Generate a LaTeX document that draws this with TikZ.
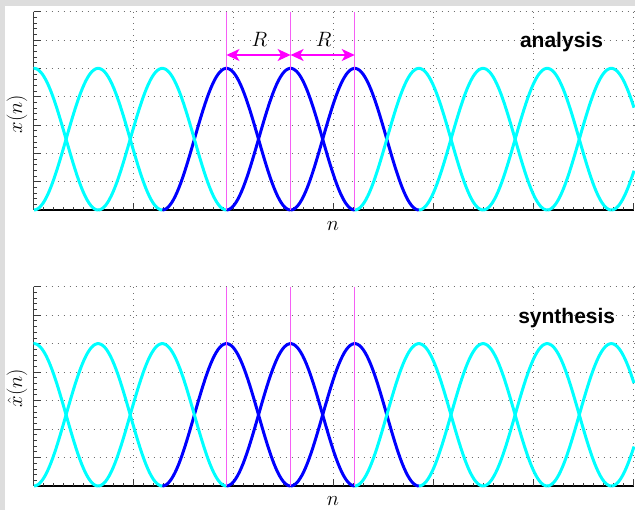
\documentclass[tikz,border=0pt]{standalone}
\usepackage{fontspec}
\newfontfamily\titlefont{Liberation Sans}
\usetikzlibrary{arrows.meta}
\definecolor{bgray}{RGB}{221,221,221}
\definecolor{gridgray}{RGB}{110,110,110}
\definecolor{axgray}{RGB}{60,60,60}
\definecolor{winblue}{RGB}{0,0,255}
\definecolor{wincyan}{RGB}{0,255,255}
\definecolor{markmag}{RGB}{255,0,255}
\definecolor{linemag}{RGB}{245,95,245}
\tikzset{
 gridline/.style={draw=gridgray, line width=0.9pt, dash pattern=on 0.9pt off 5.1pt},
 winline/.style={line width=3pt},
 yaxis/.style={draw=axgray, line width=1.6pt},
 xaxis/.style={draw=black, line width=1.4pt},
 tickline/.style={draw=axgray, line width=1pt},
 minortick/.style={draw=axgray, line width=0.8pt},
 markline/.style={draw=linemag, line width=1.4pt},
 spanarrow/.style={draw=markmag, line width=1.5pt,
   {Stealth[length=13pt,width=12pt,inset=3.5pt]}-{Stealth[length=13pt,width=12pt,inset=3.5pt]}},
 mathlabel/.style={inner sep=0pt, font=\fontsize{20}{24}\selectfont},
 titlelabel/.style={inner sep=0pt, font=\titlefont\bfseries\fontsize{21}{25}\selectfont},
}
% #1 = row of zero, #2 = row of top (1.4), #3 = name prefix
\newcommand\winpanel[3]{%
  \pgfmathsetmacro\unitA{(#1-#2)/1.4}%
  % grid
  \foreach \gi in {1,...,7}
    \draw[gridline] (33.5,{#1-\gi*(#1-#2)/7}) -- (634,{#1-\gi*(#1-#2)/7});
  \foreach \gx in {133.5,233.5,...,633.5}
    \draw[gridline] (\gx,#1) -- (\gx,#2);
  % axes
  \draw[yaxis] (33.5,#2) -- (33.5,#1);
  \draw[xaxis] (33.5,#1) -- (634,#1);
  \foreach \gi in {0,...,7}
    \draw[tickline] (33.5,{#1-\gi*(#1-#2)/7}) -- (40.5,{#1-\gi*(#1-#2)/7});
  \foreach \gi in {1,...,34}
    \draw[minortick] (33.5,{#1-\gi*(#1-#2)/35}) -- (36.5,{#1-\gi*(#1-#2)/35});
  \foreach \gx in {43.5,53.5,...,623.5}
    \draw[minortick] (\gx,#1) -- (\gx,#1-3);
  \foreach \gx in {133.5,233.5,...,633.5}
    \draw[tickline] (\gx,#1) -- (\gx,#1-6.5);
  % windows
  \foreach \wk/\wc in {3/winblue,4/winblue,5/winblue,0/wincyan,1/wincyan,2/wincyan,6/wincyan,7/wincyan,8/wincyan,9/wincyan,10/wincyan}{
    \pgfmathsetmacro\wcen{34+64.15*\wk}
    \pgfmathsetmacro\wa{max(33.5,\wcen-64.15)}
    \pgfmathsetmacro\wb{min(634,\wcen+64.15)}
    \draw[winline,\wc] plot[domain=\wa:\wb, samples=70]
      (\x,{#1-\unitA*0.5*(1+cos(180*(\x-\wcen)/64.15))});
  }
  % marker lines
  \coordinate (#3m1t) at (226.45,#2);
  \coordinate (#3m1b) at (226.45,#1);
  \coordinate (#3m2t) at (290.6,#2);
  \coordinate (#3m2b) at (290.6,#1);
  \coordinate (#3m3t) at (354.75,#2);
  \coordinate (#3m3b) at (354.75,#1);
  \draw[markline] (#3m1t) -- (#3m1b);
  \draw[markline] (#3m2t) -- (#3m2b);
  \draw[markline] (#3m3t) -- (#3m3b);
}
\begin{document}
\begin{tikzpicture}[x=1pt,y=-1pt]
\fill[bgray] (0,0) rectangle (635,510);
\fill[white] (5,6) rectangle (635,510);
\useasboundingbox (0,0) rectangle (635,510);

\winpanel{210}{11.7}{a}
\winpanel{486}{286.7}{s}

% R spans in analysis panel
\coordinate (ra) at (226.45,55);
\coordinate (rb) at (290.6,55);
\coordinate (rc) at (354.75,55);
\draw[spanarrow] (ra) -- (rb);
\draw[spanarrow] (rb) -- (rc);
\node[mathlabel] (rlab1) at (259.5,39) {$R$};
\node[mathlabel] (rlab2) at (323.7,39) {$R$};

% labels
\node[titlelabel, anchor=base] (ttla) at (561.5,48) {analysis};
\node[titlelabel, anchor=base] (ttls) at (566.7,323.5) {synthesis};
\node[mathlabel] (nla) at (333,226) {$n$};
\node[mathlabel] (nls) at (333,501) {$n$};
\node[mathlabel, rotate=90] (yla) at (17,114) {$x(n)$};
\node[mathlabel, rotate=90] (yls) at (17,388) {$\hat{x}(n)$};
\end{tikzpicture}
\end{document}
